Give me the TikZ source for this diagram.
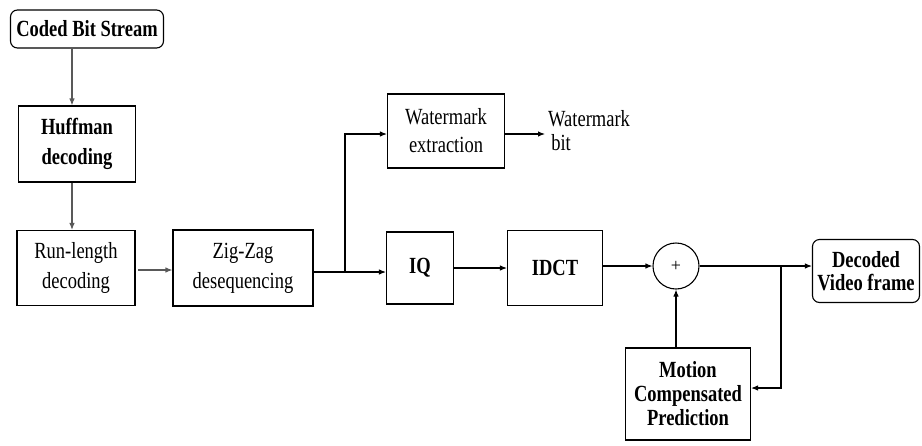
\documentclass[tikz,border=0pt]{standalone}
\usepackage{fontspec}
\setmainfont{Liberation Serif}
\usetikzlibrary{arrows.meta}
\newcommand{\st}[1]{\scalebox{1}[1.25]{#1}}
\begin{document}
\begin{tikzpicture}[x=1pt,y=-1pt,
  blk/.style={draw,line width=1.1pt,inner sep=0pt,align=center,font=\fontsize{18.5}{22}\selectfont},
  rblk/.style={blk,rounded corners=7pt},
  arr/.style={line width=1.1pt,-{Latex[length=7pt,width=5.5pt]}},
  ln/.style={line width=1.1pt}]
\useasboundingbox (0,0) rectangle (922,445);
\node[rblk,minimum width=153pt,minimum height=38pt] (cbs) at (87,29) {\st{\textbf{Coded Bit Stream}}};
\node[blk,minimum width=117pt,minimum height=76pt] (huf) at (77,144) {\st{\textbf{Huffman}}\\[8pt]\st{\textbf{decoding}}};
\node[blk,minimum width=118pt,minimum height=75pt] (rl) at (76,268) {\st{Run-length}\\[8pt]\st{decoding}};
\node[blk,minimum width=140pt,minimum height=76pt] (zz) at (243,268) {\st{Zig-Zag}\\[8pt]\st{desequencing}};
\node[blk,minimum width=117pt,minimum height=74pt] (wm) at (446,131) {\st{Watermark}\\[6pt]\st{extraction}};
\node[align=left,anchor=west,inner sep=0pt,font=\fontsize{18.5}{22}\selectfont] (wb) at (548,131) {\st{Watermark}\\[2pt]\st{\,bit}};
\node[blk,minimum width=67pt,minimum height=72pt] (iq) at (420,268) {\st{\textbf{IQ}}};
\node[blk,minimum width=95pt,minimum height=75pt] (idct) at (555,268) {\st{\textbf{IDCT}}};
\node[draw,circle,line width=1.1pt,minimum size=46pt,inner sep=0pt,font=\fontsize{18}{20}\selectfont] (sum) at (676,266) {+};
\node[rblk,minimum width=107pt,minimum height=63pt] (dec) at (866,271) {\st{\textbf{Decoded}}\\[1pt]\st{\textbf{Video frame}}};
\node[blk,minimum width=125pt,minimum height=92pt] (mcp) at (688,394) {\st{\textbf{Motion}}\\[2pt]\st{\textbf{Compensated}}\\[2pt]\st{\textbf{Prediction}}};
\coordinate (br1) at (345,272);
\coordinate (br2) at (781,266);
\coordinate (rlend) at (138,270);
\draw[arr,draw=gray!70!black] (cbs.south -| 72,0) -- (huf.north -| 72,0);
\draw[arr,draw=gray!70!black] (huf.south -| 72,0) -- (rl.north -| 72,0);
\draw[arr,draw=gray!70!black] (rlend) -- (zz.west |- rlend);
\draw[ln] (zz.east |- br1) -- (br1);
\draw[arr] (br1) -- (iq.west |- br1);
\draw[arr] (br1) |- (wm.west |- 0,134);
\draw[arr] (wm.east |- 0,134) -- (545,134);
\draw[arr] (iq.east) -- (idct.west |- iq.east);
\draw[arr] (idct.east |- sum) -- (sum.west);
\draw[arr] (sum.east) -- (dec.west |- sum.east);
\draw[arr] (br2) |- (mcp.east |- 0,388);
\draw[arr] (mcp.north -| sum) -- (sum.south);
\end{tikzpicture}
\end{document}
